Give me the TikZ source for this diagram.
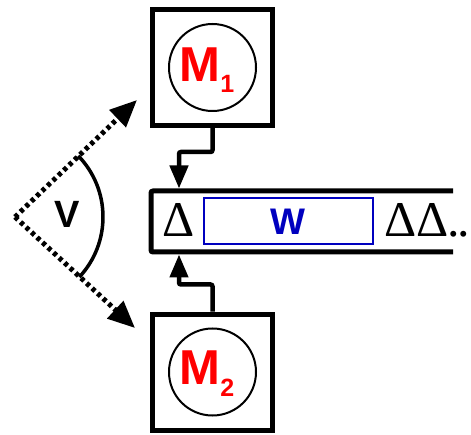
\documentclass[tikz,border=0pt]{standalone}
\usepackage{fontspec}
\setmainfont{Liberation Serif}
\setsansfont{Liberation Sans}
\usetikzlibrary{calc,arrows.meta}

\begin{document}
\begin{tikzpicture}[x=1pt, y=1pt,
		modbox/.style={draw, line width=5pt, minimum width=120pt, minimum height=116pt, inner sep=0pt},
		modring/.style={draw, circle, line width=2pt, minimum size=87pt, inner sep=0pt},
		modlabel/.style={text=red, inner sep=0pt, anchor=base, font=\sffamily\bfseries\fontsize{49}{49}\selectfont},
		feed/.style={line width=4.5pt, rounded corners=2pt, -{Triangle[length=23pt, width=18pt]}},
		swing/.style={line width=5pt, dash pattern=on 4pt off 3.5pt, -{Triangle[length=27pt, width=23pt]}},
		delta/.style={inner sep=0pt, font=\fontsize{50}{50}\selectfont}]
	%%%%% START %%%%%
	
	\useasboundingbox (0, 0) rectangle (471, 434);
	
	\node[modbox] (box1) at (212.5, 366.5) {};
	\node[modring] (ring1) at (box1) {};
	\node[modlabel] (m1) at (207, 352) {M\raisebox{-11pt}{\fontsize{25}{25}\selectfont 1}};
	
	\node[modbox] (box2) at (212.5, 62) {};
	\node[modring] (ring2) at (box2) {};
	\node[modlabel] (m2) at (207, 50) {M\raisebox{-12pt}{\fontsize{25}{25}\selectfont 2}};
	
	\coordinate (stripTR) at (453, 243);
	\coordinate (stripBR) at (453, 182);
	\draw[line width=5pt, rounded corners=2pt] (stripTR) -- (151, 243) -- (151, 182) -- (stripBR);
	
	\coordinate (in1) at (179, 245.5);
	\coordinate (in2) at (179, 179.5);
	\draw[feed] (box1.south) -- ++(0, -24) -| (in1);
	\draw[feed] (box2.north) -- ++(0, 27) -| (in2);
	
	\node[draw=blue!75!black, line width=2pt, minimum width=169pt, minimum height=46pt, inner sep=0pt] (work) at (288, 212.5) {};
	\node[text=blue!75!black, inner sep=0pt, anchor=base, font=\sffamily\bfseries\fontsize{37}{37}\selectfont] (wlabel) at (288, 199) {W};
	
	\node[delta, anchor=base] (d1) at (179, 197) {Δ};
	\node[delta, anchor=base west] (d2) at (384, 197) {ΔΔ\kern-1pt.\kern-3pt.};
	
	\coordinate (apex) at (15, 217);
	\coordinate (up) at (137, 334);
	\coordinate (down) at (135, 106);
	\draw[swing] (apex) -- (up);
	\draw[swing] (apex) -- (down);
	\draw[line width=3.5pt] ($(apex)+(44:88)$) arc (44:-43:88);
	\node[inner sep=0pt, anchor=base, font=\sffamily\bfseries\fontsize{38}{38}\selectfont] (vlabel) at (67, 206) {V};
	
	%%%%% END %%%%%
\end{tikzpicture}
\end{document}
